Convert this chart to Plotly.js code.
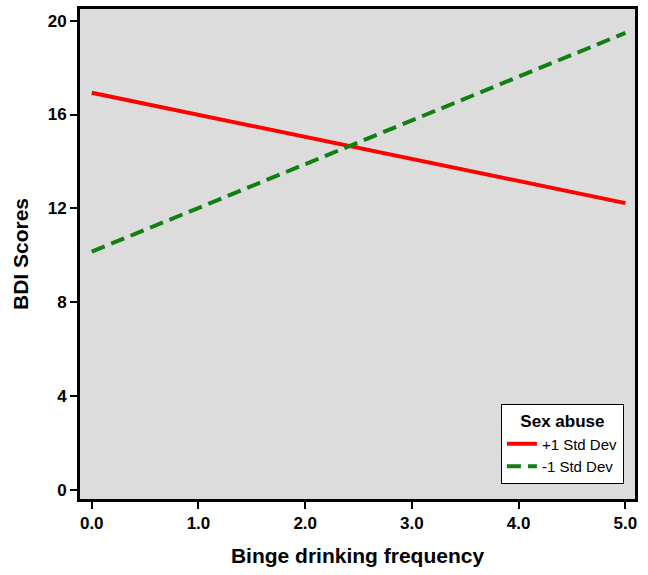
<!DOCTYPE html>
<html><head><meta charset="utf-8">
<script src="https://cdn.plot.ly/plotly-3.0.1.min.js"></script>
<style>body{margin:0;background:#fff}#c{width:648px;height:575px}</style>
</head><body><div id="c"></div>
<script>
const xVals = [0, 5];
const highAbuse = [16.93, 12.22];
const lowAbuse = [10.15, 19.48];
const seriesNames = ["+1 Std Dev", "-1 Std Dev"];
const xTicks = [0, 1, 2, 3, 4, 5];
const xTickText = ["0.0", "1.0", "2.0", "3.0", "4.0", "5.0"];
const yTicks = [0, 4, 8, 12, 16, 20];

const traces = [
  {x: xVals, y: highAbuse, name: seriesNames[0], mode: "lines", line: {color: "#ff0000", width: 4}},
  {x: xVals, y: lowAbuse, name: seriesNames[1], mode: "lines", line: {color: "#118011", width: 4, dash: "14px,7px"}}
];
const axisCommon = {showline: true, linecolor: "#000", linewidth: 3, mirror: true, ticks: "outside",
  ticklen: 7, tickwidth: 2, tickcolor: "#000", showgrid: false, zeroline: false,
  tickfont: {family: "Arial, Liberation Sans, sans-serif", size: 17, color: "#000", weight: "bold"}};
const layout = {
  width: 648, height: 575,
  margin: {l: 80, r: 13, t: 9, b: 76},
  paper_bgcolor: "#fff", plot_bgcolor: "#dcdcdc",
  xaxis: Object.assign({}, axisCommon, {range: [-0.11, 5.09], tickvals: xTicks, ticktext: xTickText,
    title: {text: "Binge drinking frequency", standoff: 16, font: {family: "Arial, Liberation Sans, sans-serif", size: 21, color: "#000", weight: "bold"}}}),
  yaxis: Object.assign({}, axisCommon, {range: [-0.4, 20.5], tickvals: yTicks,
    title: {text: "BDI Scores", standoff: 14, font: {family: "Arial, Liberation Sans, sans-serif", size: 21, color: "#000", weight: "bold"}}}),
  showlegend: true,
  legend: {x: 0.98, y: 0.03, xanchor: "right", yanchor: "bottom", bgcolor: "#fff",
    bordercolor: "#000", borderwidth: 1,
    title: {text: "Sex abuse", side: "top center", font: {family: "Arial, Liberation Sans, sans-serif", size: 17, color: "#000", weight: "bold"}},
    font: {family: "Arial, Liberation Sans, sans-serif", size: 15, color: "#000"}, itemwidth: 30}
};
Plotly.newPlot("c", traces, layout, {displayModeBar: false, staticPlot: true});
</script></body></html>
